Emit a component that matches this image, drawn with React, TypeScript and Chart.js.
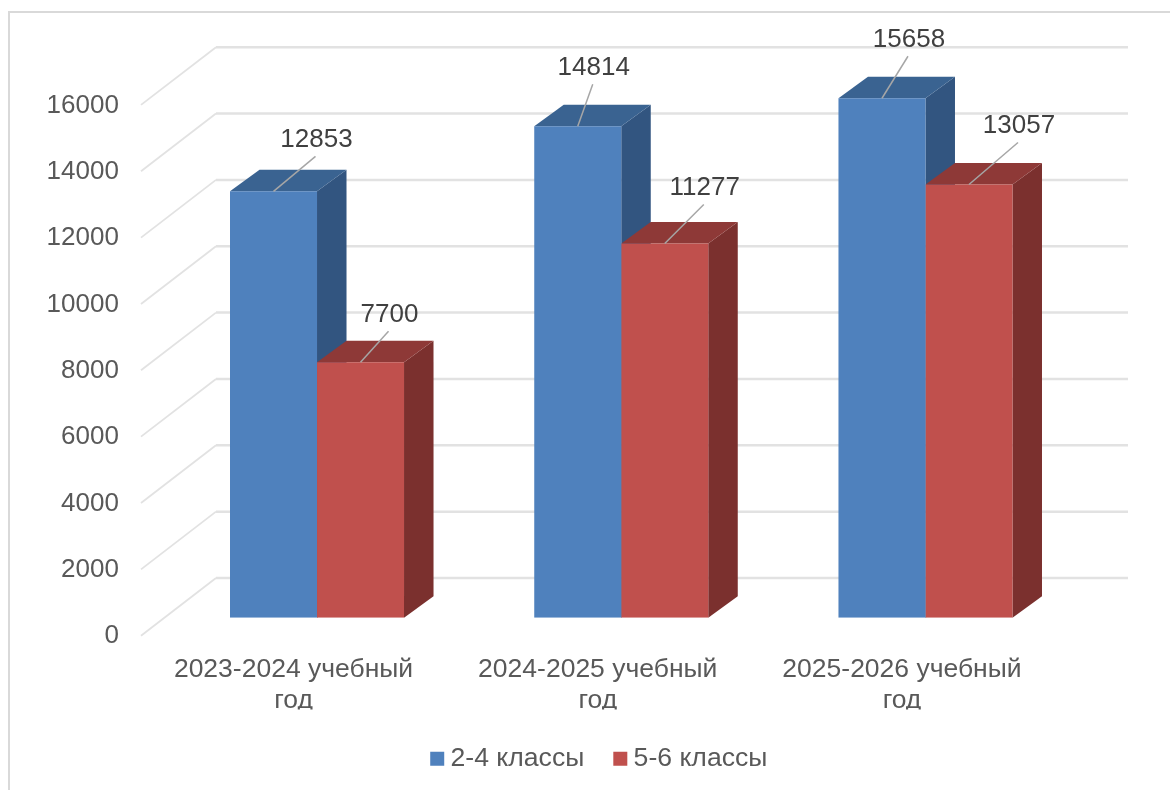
import React, { useEffect, useRef } from "react";
import { Chart, registerables } from "chart.js";

Chart.register(...registerables);

const categories = [
  ["2023-2024 учебный", "год"],
  ["2024-2025 учебный", "год"],
  ["2025-2026 учебный", "год"],
];
const seriesNames = ["2-4 классы", "5-6 классы"];
const grades24 = [12853, 14814, 15658];
const grades56 = [7700, 11277, 13057];
const yMax = 16000;
const yStep = 2000;

const FONT = "'Liberation Sans', Arial, sans-serif";
const DEPTH_X = 29.5;
const DEPTH_Y = 21.5;
const FACE = [
  { front: "#4F81BD", top: "#3A6391", side: "#325580" },
  { front: "#C0504D", top: "#8E3937", side: "#7B302E" },
];
// leader-line ends relative to the top-centre of each bar
const LEADERS = [
  [[42, -35], [15, -42], [26, -42]],
  [[28, -31], [39, -39], [49, -42]],
];
const LEGEND_SHIFT = 63.5;

const poly = (ctx: CanvasRenderingContext2D, pts: number[][], fill: string) => {
  ctx.beginPath();
  pts.forEach((p, i) => (i ? ctx.lineTo(p[0], p[1]) : ctx.moveTo(p[0], p[1])));
  ctx.closePath();
  ctx.fillStyle = fill;
  ctx.fill();
};

const wallsAndDepth = {
  id: "wallsAndDepth",
  afterLayout(chart: any) {
    chart.legend.left += LEGEND_SHIFT;
    chart.legend.right += LEGEND_SHIFT;
  },
  beforeDatasetsDraw(chart: any) {
    const { ctx, scales } = chart;
    const y = scales.y;
    const backX0 = 216;
    const backX1 = 1128;
    ctx.save();
    ctx.strokeStyle = "#E2E2E2";
    ctx.lineCap = "butt";
    y.ticks.forEach((t: any) => {
      const py = y.getPixelForValue(t.value);
      ctx.lineWidth = 2.5;
      ctx.beginPath();
      ctx.moveTo(backX0, py - 39.7);
      ctx.lineTo(backX1, py - 39.7);
      ctx.stroke();
      ctx.lineWidth = 1.8;
      ctx.beginPath();
      ctx.moveTo(141, py + 18);
      ctx.lineTo(backX0, py - 39.7);
      ctx.stroke();
    });
    [0, 1].forEach((ds) => {
      chart.getDatasetMeta(ds).data.forEach((bar: any) => {
        const l = bar.x - bar.width / 2;
        const r = bar.x + bar.width / 2;
        const t = bar.y;
        const b = bar.base;
        poly(ctx, [[r, t], [r + DEPTH_X, t - DEPTH_Y], [r + DEPTH_X, b - DEPTH_Y], [r, b]], FACE[ds].side);
        poly(ctx, [[l, t], [l + DEPTH_X, t - DEPTH_Y], [r + DEPTH_X, t - DEPTH_Y], [r, t]], FACE[ds].top);
      });
    });
    ctx.restore();
  },
  afterDatasetsDraw(chart: any) {
    const { ctx } = chart;
    ctx.save();
    ctx.font = `26px ${FONT}`;
    ctx.textAlign = "center";
    ctx.textBaseline = "middle";
    [0, 1].forEach((ds) => {
      chart.getDatasetMeta(ds).data.forEach((bar: any, i: number) => {
        const [dx, dy] = LEADERS[ds][i];
        ctx.strokeStyle = "#A6A6A6";
        ctx.lineWidth = 1.5;
        ctx.beginPath();
        ctx.moveTo(bar.x, bar.y);
        ctx.lineTo(bar.x + dx, bar.y + dy);
        ctx.stroke();
        ctx.fillStyle = "#404040";
        ctx.fillText(String(chart.data.datasets[ds].data[i]), bar.x + dx + 1, bar.y + dy - 16.8);
      });
    });
    ctx.restore();
  },
};

export default function App() {
  const ref = useRef<HTMLCanvasElement>(null);
  useEffect(() => {
    const chart = new Chart(ref.current as HTMLCanvasElement, {
      type: "bar",
      data: {
        labels: categories as any,
        datasets: [
          { label: seriesNames[0], data: grades24, backgroundColor: FACE[0].front, categoryPercentage: 0.572, barPercentage: 1 },
          { label: seriesNames[1], data: grades56, backgroundColor: FACE[1].front, categoryPercentage: 0.572, barPercentage: 1 },
        ],
      },
      plugins: [wallsAndDepth],
      options: {
        responsive: false,
        animation: false,
        devicePixelRatio: 1,
        layout: { padding: { top: 86.9, right: 92.4, left: 0, bottom: 0 } },
        plugins: {
          title: { display: false },
          tooltip: { enabled: false },
          legend: {
            position: "bottom",
            labels: {
              usePointStyle: true,
              pointStyle: "rect",
              boxWidth: 0.01,
              boxHeight: 14,
              padding: 36,
              color: "#595959",
              font: { family: FONT, size: 26.6 },
            },
          },
        },
        scales: {
          x: {
            grid: { display: false, drawTicks: false },
            border: { display: false },
            afterFit: (s: any) => { s.height = 91.7; },
            ticks: {
              autoSkip: false,
              maxRotation: 0,
              minRotation: 0,
              padding: 37,
              labelOffset: -23.5,
              color: "#595959",
              font: { family: FONT, size: 26.5, lineHeight: 1.15 },
            },
          },
          y: {
            min: 0,
            max: yMax,
            grid: { display: false, drawTicks: false },
            border: { display: false },
            afterFit: (s: any) => { s.width = 164.9; },
            ticks: {
              stepSize: yStep,
              padding: 46,
              labelOffset: 18.5,
              color: "#595959",
              font: { family: FONT, size: 26 },
              callback: (v: any) => String(v),
            },
          },
        },
      } as any,
    });
    return () => chart.destroy();
  }, []);
  return (
    <div style={{ position: "absolute", left: 0, top: 0, width: 1170, height: 790, overflow: "hidden", background: "#fff" }}>
      <canvas ref={ref} width={1170} height={782} style={{ position: "absolute", left: 0, top: 0, display: "block" }} />
      <div style={{ position: "absolute", left: 8, top: 11, right: 0, bottom: 0, borderLeft: "2px solid #D9D9D9", borderTop: "2px solid #D9D9D9", pointerEvents: "none" }} />
    </div>
  );
}
